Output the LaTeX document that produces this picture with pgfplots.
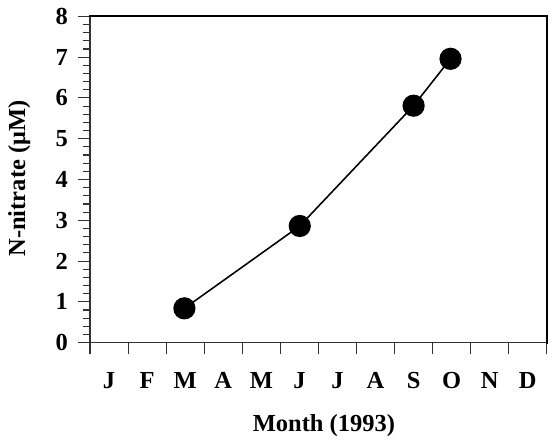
\documentclass[border=0pt]{standalone}
\usepackage{fontspec}
\setmainfont{Liberation Serif}
\usepackage{pgfplots}
\pgfplotsset{compat=1.18}
\definecolor{axgray}{RGB}{50,50,50}
\begin{document}
\fontsize{25}{30}\selectfont\bfseries
\begin{tikzpicture}[x=1bp,y=1bp]
\begin{axis}[
  name=ax,
  scale only axis,
  width=465bp, height=332bp,
  xmin=0, xmax=12, ymin=0, ymax=8,
  axis x line*=bottom, axis y line*=left,
  axis line style={axgray, line width=1.6bp, -},
  xtick={0,...,12}, xticklabels={},
  extra x ticks={0.5,1.5,...,11.5},
  extra x tick labels={J,F,M,A,M,J,J,A,S,O,N,D},
  extra x tick style={tick style={draw=none}, xticklabel style={yshift=-10bp}},
  ytick={0,...,8},
  minor y tick num=4,
  tick align=outside,
  major tick length=12bp, minor tick length=7.5bp,
  tick style={axgray, line width=1.1bp},
  yticklabel style={xshift=-2bp},
  /pgf/number format/assume math mode=true,
  ticklabel style={font=\fontsize{25}{30}\selectfont\bfseries},
  xlabel={Month (1993)},
  ylabel={N-nitrate (μM)},
  label style={font=\fontsize{26}{30}\selectfont\bfseries},
  every axis x label/.style={at={(axis description cs:0.512,0)}, yshift=-84bp, anchor=center},
  every axis y label/.style={at={(axis description cs:0,0.503)}, xshift=-72bp, rotate=90, anchor=center},
  clip=false,
]
\addplot[black, line width=1.6bp, mark=*, mark size=10.5bp, mark options={fill=black}]
  coordinates {(2.48,0.84) (5.51,2.86) (8.5,5.81) (9.47,6.96)};
\coordinate (tl) at (rel axis cs:0,1);
\coordinate (tr) at (rel axis cs:1,1);
\coordinate (br) at (rel axis cs:1,0);
\end{axis}
\draw[black, line width=2bp, line cap=rect] (tl) -- (tr) -- (br);
\end{tikzpicture}
\end{document}
